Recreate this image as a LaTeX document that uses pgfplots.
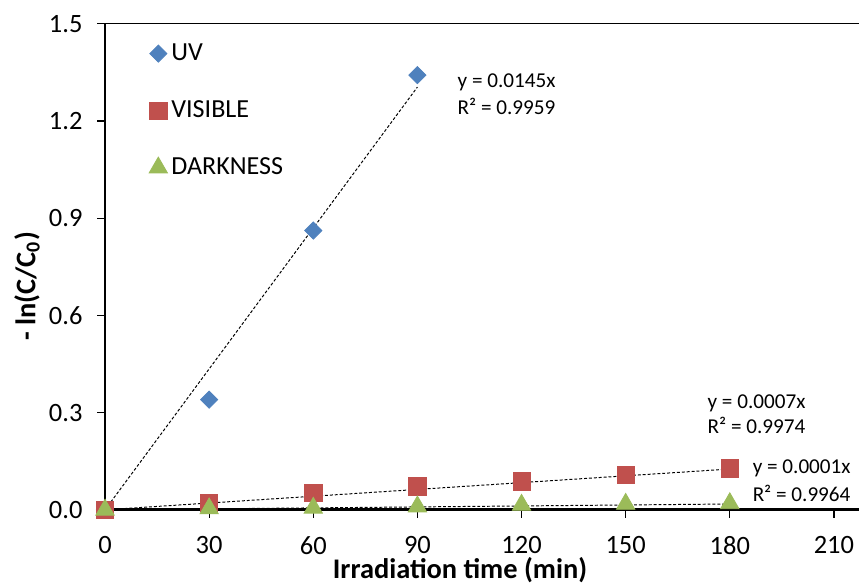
\documentclass[border=0pt]{standalone}
\usepackage{pgfplots}
\pgfplotsset{compat=1.18}
\usepackage{fontspec}
\setmainfont{Carlito}
\definecolor{uvc}{HTML}{4F81BD}
\definecolor{visc}{HTML}{C0504D}
\definecolor{darkc}{HTML}{9BBB59}
\begin{document}
\begin{tikzpicture}
\begin{axis}[
  name=ax,
  scale only axis,
  width=372pt, height=248pt,
  xmin=0, xmax=210, ymin=0, ymax=1.5,
  xtick={0,30,...,210},
  ytick={0,0.3,...,1.5},
  axis x line*=bottom, axis y line*=left,
  x axis line style={line width=1.4pt},
  y axis line style={line width=0.9pt},
  tick align=outside, major tick length=4pt,
  tick style={black, line width=0.6pt},
  /pgf/number format/assume math mode=true,
  ticklabel style={font=\fontsize{13.5}{16}\selectfont},
  yticklabel style={xshift=-4pt, /pgf/number format/.cd, fixed, precision=1, fixed zerofill},
  xticklabel style={yshift=-6pt},
  xlabel={\textbf{Irradiation time (min)}},
  ylabel={\textbf{- ln(C/C\textsubscript{0})}},
  label style={font=\fontsize{14.5}{16}\selectfont},
  xlabel style={at={(axis description cs:0.487,0)}, anchor=base, yshift=-35pt},
  ylabel style={at={(axis description cs:-0.107,0.46)}, anchor=center},
  clip=false,
  legend style={draw=none, fill=none, at={(axis description cs:0.06,0.968)}, anchor=north west,
    font=\fontsize{13.3}{15}\selectfont, row sep=15pt, inner sep=0pt},
  legend cell align=left,
]
\draw[black, line width=0.6pt] ([xshift=-4pt]rel axis cs:0,1) -- ([xshift=13pt]rel axis cs:1,1);
\draw[black, line width=1.4pt] (rel axis cs:1,0) -- ([xshift=13pt]rel axis cs:1,0);
\addplot[only marks, mark=square*, mark size=3.1pt, mark options={rotate=45}, color=uvc] coordinates {(0,0) (30,0.34) (60,0.862) (90,1.342)};
\addlegendentry{UV}
\addplot[only marks, mark=square*, mark size=4.4pt, color=visc] coordinates {(0,0) (30,0.021) (60,0.052) (90,0.072) (120,0.088) (150,0.108) (180,0.128)};
\addlegendentry{VISIBLE}
\addplot[only marks, mark=triangle*, mark size=5.4pt, color=darkc] coordinates {(0,0) (30,0.004) (60,0.006) (90,0.01) (120,0.015) (150,0.018) (180,0.02)};
\addlegendentry{DARKNESS}
\addplot[black, line width=0.5pt, dash pattern=on 1.5pt off 1pt, forget plot] coordinates {(0,0) (90,1.305)};
\addplot[black, line width=0.5pt, dash pattern=on 1.5pt off 1pt, forget plot] coordinates {(0,0) (180,0.126)};
\addplot[black, line width=0.5pt, dash pattern=on 1.5pt off 1pt, forget plot] coordinates {(0,0) (180,0.018)};
\node[anchor=west, inner sep=0pt, font=\fontsize{10.8}{13}\selectfont] at (axis cs:101.5,1.321) {y = 0.0145x};
\node[anchor=west, inner sep=0pt, font=\fontsize{10.8}{13}\selectfont] at (axis cs:101.5,1.244) {R² = 0.9959};
\node[anchor=west, inner sep=0pt, font=\fontsize{10.8}{13}\selectfont] at (axis cs:173.5,0.330) {y = 0.0007x};
\node[anchor=west, inner sep=0pt, font=\fontsize{10.8}{13}\selectfont] at (axis cs:173.5,0.262) {R² = 0.9974};
\node[anchor=west, inner sep=0pt, font=\fontsize{10.8}{13}\selectfont] at (axis cs:186.5,0.127) {y = 0.0001x};
\node[anchor=west, inner sep=0pt, font=\fontsize{10.8}{13}\selectfont] at (axis cs:186.5,0.050) {R² = 0.9964};
\end{axis}
\pgfresetboundingbox
\path ([xshift=-53.6pt,yshift=-39pt]ax.south west) rectangle ([xshift=12.8pt,yshift=12.2pt]ax.north east);
\end{tikzpicture}
\end{document}
